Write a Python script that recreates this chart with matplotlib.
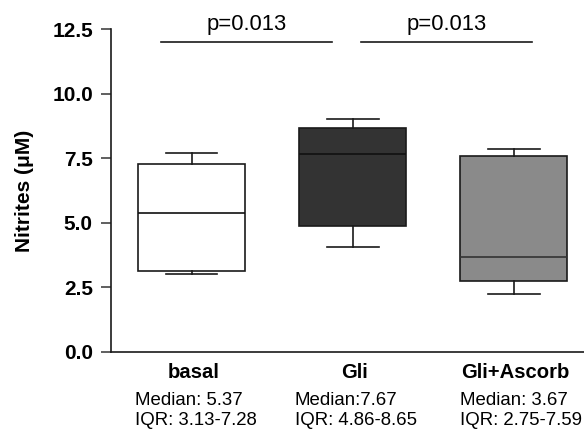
import matplotlib
matplotlib.use("Agg")
import matplotlib.pyplot as plt

plt.rcParams["font.family"] = ["Liberation Sans", "DejaVu Sans"]

# ---------------------------------------------------------------------------
# Data
# ---------------------------------------------------------------------------
GROUPS = ["basal", "Gli", "Gli+Ascorb"]
MEDIANS = [5.37, 7.67, 3.67]
Q1 = [3.13, 4.86, 2.75]
Q3 = [7.28, 8.65, 7.59]
WHIS_LO = [3.02, 4.06, 2.25]
WHIS_HI = [7.70, 9.00, 7.85]
MEDIAN_TEXT = ["Median: 5.37", "Median:7.67", "Median: 3.67"]
IQR_TEXT = ["IQR: 3.13-7.28", "IQR: 4.86-8.65", "IQR: 2.75-7.59"]
FILLS = ["#ffffff", "#333333", "#8a8a8a"]
MEDIAN_COLORS = ["#111111", "#111111", "#333333"]

# significance bars: x start, x end (data units), label, level
SIG_X0 = [-0.19, 1.053]
SIG_X1 = [0.873, 2.115]
SIG_LABEL = ["p=0.013", "p=0.013"]
SIG_LEVEL = [12.0, 12.0]

YTICKS = [0.0, 2.5, 5.0, 7.5, 10.0, 12.5]

# ---------------------------------------------------------------------------
fig = plt.figure(figsize=(5.84, 4.29), dpi=100)
ax = fig.add_axes([0.19, 0.1795, 0.81, 0.7529])

stats = []
for g, med, q1, q3, lo, hi in zip(GROUPS, MEDIANS, Q1, Q3, WHIS_LO, WHIS_HI):
    stats.append(dict(label=g, med=med, q1=q1, q3=q3, whislo=lo, whishi=hi, fliers=[]))

pos = list(range(len(GROUPS)))
bp = ax.bxp(stats, positions=pos, widths=0.665, capwidths=0.32, patch_artist=True,
            showfliers=False,
            boxprops=dict(edgecolor="#1a1a1a", linewidth=1.2),
            whiskerprops=dict(color="#1a1a1a", linewidth=1.2),
            capprops=dict(color="#1a1a1a", linewidth=1.2),
            medianprops=dict(linewidth=1.2))
for box, fc in zip(bp["boxes"], FILLS):
    box.set_facecolor(fc)
for med, mc in zip(bp["medians"], MEDIAN_COLORS):
    med.set_color(mc)

# significance lines
for x0, x1, label, lvl in zip(SIG_X0, SIG_X1, SIG_LABEL, SIG_LEVEL):
    ax.plot([x0, x1], [lvl, lvl], color="#1a1a1a", linewidth=1.2, clip_on=False)
    ax.text((x0 + x1) / 2, lvl + 0.46, label, ha="center", va="baseline",
            fontsize=15.8, clip_on=False)

ax.set_xlim(-0.5, 2.435)
ax.set_ylim(0, 12.5)
ax.set_yticks(YTICKS)
ax.set_yticklabels([f"{v:.1f}" for v in YTICKS], fontsize=15, fontweight="bold")
ax.tick_params(axis="y", length=7, width=1.2, color="#444444", pad=6)
ax.set_xticks(pos)
ax.set_xticklabels([])
ax.tick_params(axis="x", length=0)

ax.spines[["top", "right"]].set_visible(False)
for s in ("left", "bottom"):
    ax.spines[s].set_linewidth(1.2)
    ax.spines[s].set_color("#1a1a1a")

ax.set_ylabel("Nitrites (μM)", fontsize=15, fontweight="bold")
ax.yaxis.set_label_coords(-0.163, 0.5)

# group names and median / IQR annotations below the axis
xtr = ax.get_xaxis_transform()
xoff = [-0.351, -0.36, -0.335]
for p, off, g, mt, it in zip(pos, xoff, GROUPS, MEDIAN_TEXT, IQR_TEXT):
    ax.text(p + 0.01, -0.0805, g, transform=xtr, ha="center", va="baseline",
            fontsize=14.6, fontweight="bold")
    ax.text(p + off, -0.164, mt, transform=xtr, ha="left", va="baseline", fontsize=13.4)
    ax.text(p + off, -0.227, it, transform=xtr, ha="left", va="baseline", fontsize=13.4)

fig.savefig("out.png", dpi=100)
